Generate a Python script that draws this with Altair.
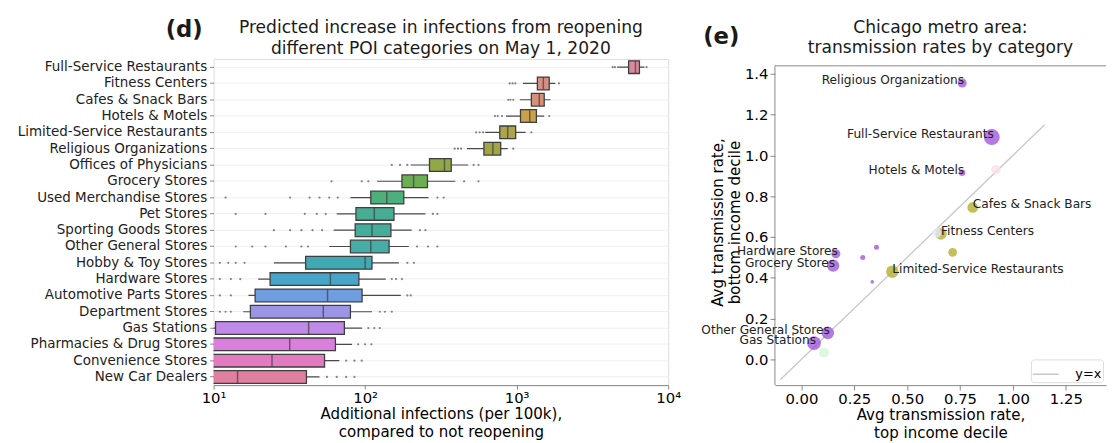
import altair as alt
import pandas as pd

FONT = "DejaVu Sans"

# ---------------- Panel (d) data ----------------
categories = [
    "Full-Service Restaurants", "Fitness Centers", "Cafes & Snack Bars", "Hotels & Motels",
    "Limited-Service Restaurants", "Religious Organizations", "Offices of Physicians",
    "Grocery Stores", "Used Merchandise Stores", "Pet Stores", "Sporting Goods Stores",
    "Other General Stores", "Hobby & Toy Stores", "Hardware Stores",
    "Automotive Parts Stores", "Department Stores", "Gas Stations",
    "Pharmacies & Drug Stores", "Convenience Stores", "New Car Dealers",
]
whisker_lo = [4600, 1100, 1050, 850, 620, 470, 200, 120, 80, 65, 62, 58, 25, 19.7, 17, 15.7, 8, 6, 5, 4]
q1 = [5480, 1370, 1250, 1060, 774, 608, 266, 175, 109, 87, 86, 80, 40.5, 23.6, 18.8, 17.5, 10.3, 9, 8, 7]
median = [6080, 1500, 1410, 1220, 873, 697, 334, 209, 139, 115, 111, 109, 100, 59, 56.5, 53, 42.4, 31.8, 24.3, 14.4]
q3 = [6460, 1640, 1520, 1350, 985, 785, 370, 258, 180, 155, 148, 144, 111, 91, 95.5, 80, 73, 63.7, 54, 41]
whisker_hi = [6970, 1800, 1670, 1520, 1146, 873, 479, 394, 262, 250, 203, 194, 167, 137, 172, 111, 95.5, 82, 67.6, 50]
fliers = [
    [4300, 4450, 7200],
    [900, 940, 980, 1900],
    [880, 910, 950],
    [720, 750, 800, 1640],
    [540, 570, 600, 1250],
    [390, 410, 430, 950],
    [150, 170, 190, 520, 560],
    [60, 95, 105, 450, 560],
    [12, 32, 43, 50, 58, 66, 300, 330],
    [14, 22, 40, 48, 55, 280, 300],
    [25, 32, 38, 45, 52, 230, 250],
    [14, 18, 22, 30, 38, 42, 220, 260, 300],
    [11, 12.5, 14, 16, 190, 210],
    [11, 13, 15, 150, 160, 175],
    [11, 13, 190, 200],
    [11, 12, 13, 125, 135, 150],
    [105, 115, 125],
    [90, 100, 110],
    [75, 85, 95],
    [56, 65, 75, 85],
]
box_colors = [
    "#dc8a9b", "#da8f84", "#d6907a", "#c9a14c", "#aea44a", "#a2a545", "#92a848",
    "#6cae52", "#4faf7c", "#47ad92", "#45ad9c", "#45aca6", "#40aab4", "#48a4c9",
    "#6f9de0", "#9c95e6", "#c08ae8", "#da7fdc", "#e27ac2", "#e07fa0",
]
d_title = ["Predicted increase in infections from reopening",
           "different POI categories on May 1, 2020"]

# ---------------- Panel (e) data ----------------
e_names = [
    "Religious Organizations", "Full-Service Restaurants", "Hotels & Motels",
    "Cafes & Snack Bars", "Fitness Centers", "Limited-Service Restaurants",
    "Hardware Stores", "Grocery Stores", "Other General Stores", "Gas Stations",
    "", "", "", "", "", "", "",
]
e_top = [0.76, 0.90, 0.76, 0.81, 0.66, 0.43, 0.163, 0.15, 0.125, 0.06,
         0.715, 0.29, 0.355, 0.335, 0.107, 0.92, 0.64]
e_bottom = [1.355, 1.09, 0.915, 0.745, 0.615, 0.43, 0.518, 0.46, 0.13, 0.08,
            0.525, 0.50, 0.55, 0.38, 0.034, 0.93, 0.62]
e_weight = [0.32, 1.0, 0.16, 0.45, 0.52, 0.62, 0.32, 0.6, 0.62, 0.75,
            0.3, 0.1, 0.1, 0.05, 0.4, 0.35, 0.35]
e_group = ["purple", "purple", "purple", "olive", "olive", "olive", "purple", "purple",
           "purple", "purple", "olive", "purple", "purple", "purple", "faint green",
           "faint pink", "faint blue"]
labels_left_aligned = ["Cafes & Snack Bars", "Fitness Centers", "Limited-Service Restaurants"]
labels_right_aligned = ["Religious Organizations", "Full-Service Restaurants", "Hotels & Motels",
                        "Hardware Stores", "Grocery Stores", "Other General Stores", "Gas Stations"]
diag_x = [-0.1, 1.15]
e_xlim = [-0.125, 1.44]
e_ylim = [-0.126, 1.439]
e_title = ["Chicago metro area:", "transmission rates by category"]


def text_layer(txt, x, y, size, weight="normal", align="center"):
    return alt.Chart(pd.DataFrame({"t": [txt]})).mark_text(
        fontSize=size, fontWeight=weight, align=align, baseline="middle", font=FONT, color="#1a1a1a"
    ).encode(text="t:N", x=alt.value(x), y=alt.value(y))


# ---------------- build panel (d) ----------------
box_df = pd.DataFrame({"category": categories, "lo": whisker_lo, "q1": q1,
                       "median": median, "q3": q3, "hi": whisker_hi})
flier_df = pd.DataFrame([{"category": c, "value": v}
                         for c, fl in zip(categories, fliers) for v in fl])

xscale = alt.Scale(type="log", domain=[10, 10000], nice=False)
label_expr = ("datum.value == 10 ? '10¹' : datum.value == 100 ? '10²' : "
              "datum.value == 1000 ? '10³' : '10⁴'")
yscale = alt.Scale(domain=categories, paddingInner=0.22, paddingOuter=0.11)
yaxis = alt.Axis(title=None, labelFontSize=13.6, tickSize=4, labelPadding=3, labelLimit=0,
                 grid=True, gridColor="#efefef", domain=False, labelColor="#222")
xaxis = alt.Axis(values=[10, 100, 1000, 10000], labelExpr=label_expr, labelFontSize=15,
                 tickSize=4, grid=False, labelFlush=False,
                 title=["Additional infections (per 100k),", "compared to not reopening"],
                 titleFontSize=15.2, titleFontWeight="normal", titlePadding=1, labelPadding=2,
                 titleLineHeight=18)

ybase = alt.Y("category:N", scale=yscale, sort=categories, axis=yaxis)

whisk = alt.Chart(box_df).mark_rule(color="#4a4a4a", strokeWidth=1.2, clip=True).encode(
    x=alt.X("lo:Q", scale=xscale, axis=xaxis), x2="hi:Q", y=ybase)
box = alt.Chart(box_df).mark_bar(stroke="#3e3e3e", strokeWidth=1.3, clip=True).encode(
    x=alt.X("q1:Q", scale=xscale), x2="q3:Q", y=ybase,
    color=alt.Color("category:N", scale=alt.Scale(domain=categories, range=box_colors), legend=None))
med = alt.Chart(box_df).mark_tick(color="#3e3e3e", thickness=1.5, size=12.5, orient="vertical",
                                  clip=True).encode(
    x=alt.X("median:Q", scale=xscale), y=ybase)
fl = alt.Chart(flier_df).mark_circle(size=5, color="#444444", opacity=0.65, clip=True).encode(
    x=alt.X("value:Q", scale=xscale), y=ybase)

left = alt.layer(
    whisk, box, med, fl,
    text_layer("(d)", -11, -29, 23, "bold", "right"),
    text_layer(d_title[0], 230, -31, 17.3),
    text_layer(d_title[1], 230, -10, 17.3),
).properties(width=460, height=330).resolve_scale(color="independent")

# ---------------- build panel (e) ----------------
sc_df = pd.DataFrame({"name": e_names, "top": e_top, "bottom": e_bottom,
                      "weight": e_weight, "group": e_group})
line_df = pd.DataFrame({"x": diag_x, "y": diag_x, "key": ["y=x", "y=x"]})

exs = alt.Scale(domain=[-0.125, 1.44], nice=False, zero=False)
eys = alt.Scale(domain=[-0.126, 1.4726], nice=False, zero=False)
ex_axis = alt.Axis(values=[0, 0.25, 0.5, 0.75, 1.0, 1.25], format=".2f", labelFontSize=15,
                   tickSize=5, grid=False, labelFlush=False,
                   title=["Avg transmission rate,", "top income decile"],
                   titleFontSize=15.2, titleFontWeight="normal", titlePadding=1, labelPadding=2,
                   titleLineHeight=18)
ey_axis = alt.Axis(values=[0, 0.2, 0.4, 0.6, 0.8, 1.0, 1.2, 1.4], format=".1f", labelFontSize=15,
                   tickSize=5, grid=False, domain=False, labelFlush=False,
                   title=["Avg transmission rate,", "bottom income decile"],
                   titleFontSize=15.2, titleFontWeight="normal", titlePadding=2, labelPadding=2,
                   titleLineHeight=17)

diag = alt.Chart(line_df).mark_line(strokeWidth=1.3).encode(
    x=alt.X("x:Q", scale=exs, axis=ex_axis),
    y=alt.Y("y:Q", scale=eys, axis=ey_axis),
    color=alt.Color("key:N", scale=alt.Scale(domain=["y=x"], range=["#c8c8c8"]),
                    legend=alt.Legend(title=None, orient="bottom-right", symbolType="stroke",
                                      symbolSize=700, symbolStrokeWidth=1.5, labelFontSize=13,
                                      labelFont=FONT, strokeColor="#dddddd", fillColor="white",
                                      padding=1, cornerRadius=3, offset=3, labelOffset=16)))
frame_left = alt.Chart(pd.DataFrame({"k": [0]})).mark_rule(color="#888888", strokeWidth=1).encode(
    x=alt.datum(e_xlim[0], scale=exs), y=alt.datum(e_ylim[0], scale=eys),
    y2=alt.datum(e_ylim[1]))
frame_top = alt.Chart(pd.DataFrame({"k": [0]})).mark_rule(color="#888888", strokeWidth=1).encode(
    x=alt.datum(e_xlim[0], scale=exs), x2=alt.datum(e_xlim[1]),
    y=alt.datum(e_ylim[1], scale=eys))
pts = alt.Chart(sc_df).mark_circle(opacity=0.78).encode(
    x=alt.X("top:Q", scale=exs), y=alt.Y("bottom:Q", scale=eys),
    size=alt.Size("weight:Q", scale=alt.Scale(domain=[0, 1], range=[0, 260]), legend=None),
    color=alt.Color("group:N", scale=alt.Scale(
        domain=["purple", "olive", "faint green", "faint pink", "faint blue"],
        range=["#9f55dc", "#b4ad2a", "#d6f3d6", "#f8e0ec", "#e2ecf8"]), legend=None))
txt_r = alt.Chart(sc_df).transform_filter(
    alt.FieldOneOfPredicate(field="name", oneOf=labels_right_aligned)
).mark_text(align="right", baseline="middle", fontSize=12.3, font=FONT, color="#222", dy=-3, dx=2).encode(
    x=alt.X("top:Q", scale=exs), y=alt.Y("bottom:Q", scale=eys), text="name:N")
txt_l = alt.Chart(sc_df).transform_filter(
    alt.FieldOneOfPredicate(field="name", oneOf=labels_left_aligned)
).mark_text(align="left", baseline="middle", fontSize=12.3, font=FONT, color="#222", dy=-3, dx=0).encode(
    x=alt.X("top:Q", scale=exs), y=alt.Y("bottom:Q", scale=eys), text="name:N")

right = alt.layer(
    diag, frame_left, frame_top, pts, txt_r, txt_l,
    text_layer("(e)", -36, -22, 23, "bold", "right"),
    text_layer(e_title[0], 167.5, -31, 17.3),
    text_layer(e_title[1], 167.5, -11, 17.3),
).properties(width=335, height=330, view=alt.ViewBackground(stroke=None)
             ).resolve_scale(color="independent")

chart = alt.hconcat(left, right, spacing=19).resolve_scale(
    color="independent", size="independent", x="independent", y="independent"
).configure_view(stroke="#888888", strokeWidth=1).configure_axis(
    labelFont=FONT, titleFont=FONT, labelColor="#222", titleColor="#222",
    tickColor="#555", domainColor="#888888"
).configure(font=FONT).properties(padding={"left": 8, "top": 8, "right": 0, "bottom": 0})

chart.save("out.html", embed_options={"renderer": "svg", "actions": False})
